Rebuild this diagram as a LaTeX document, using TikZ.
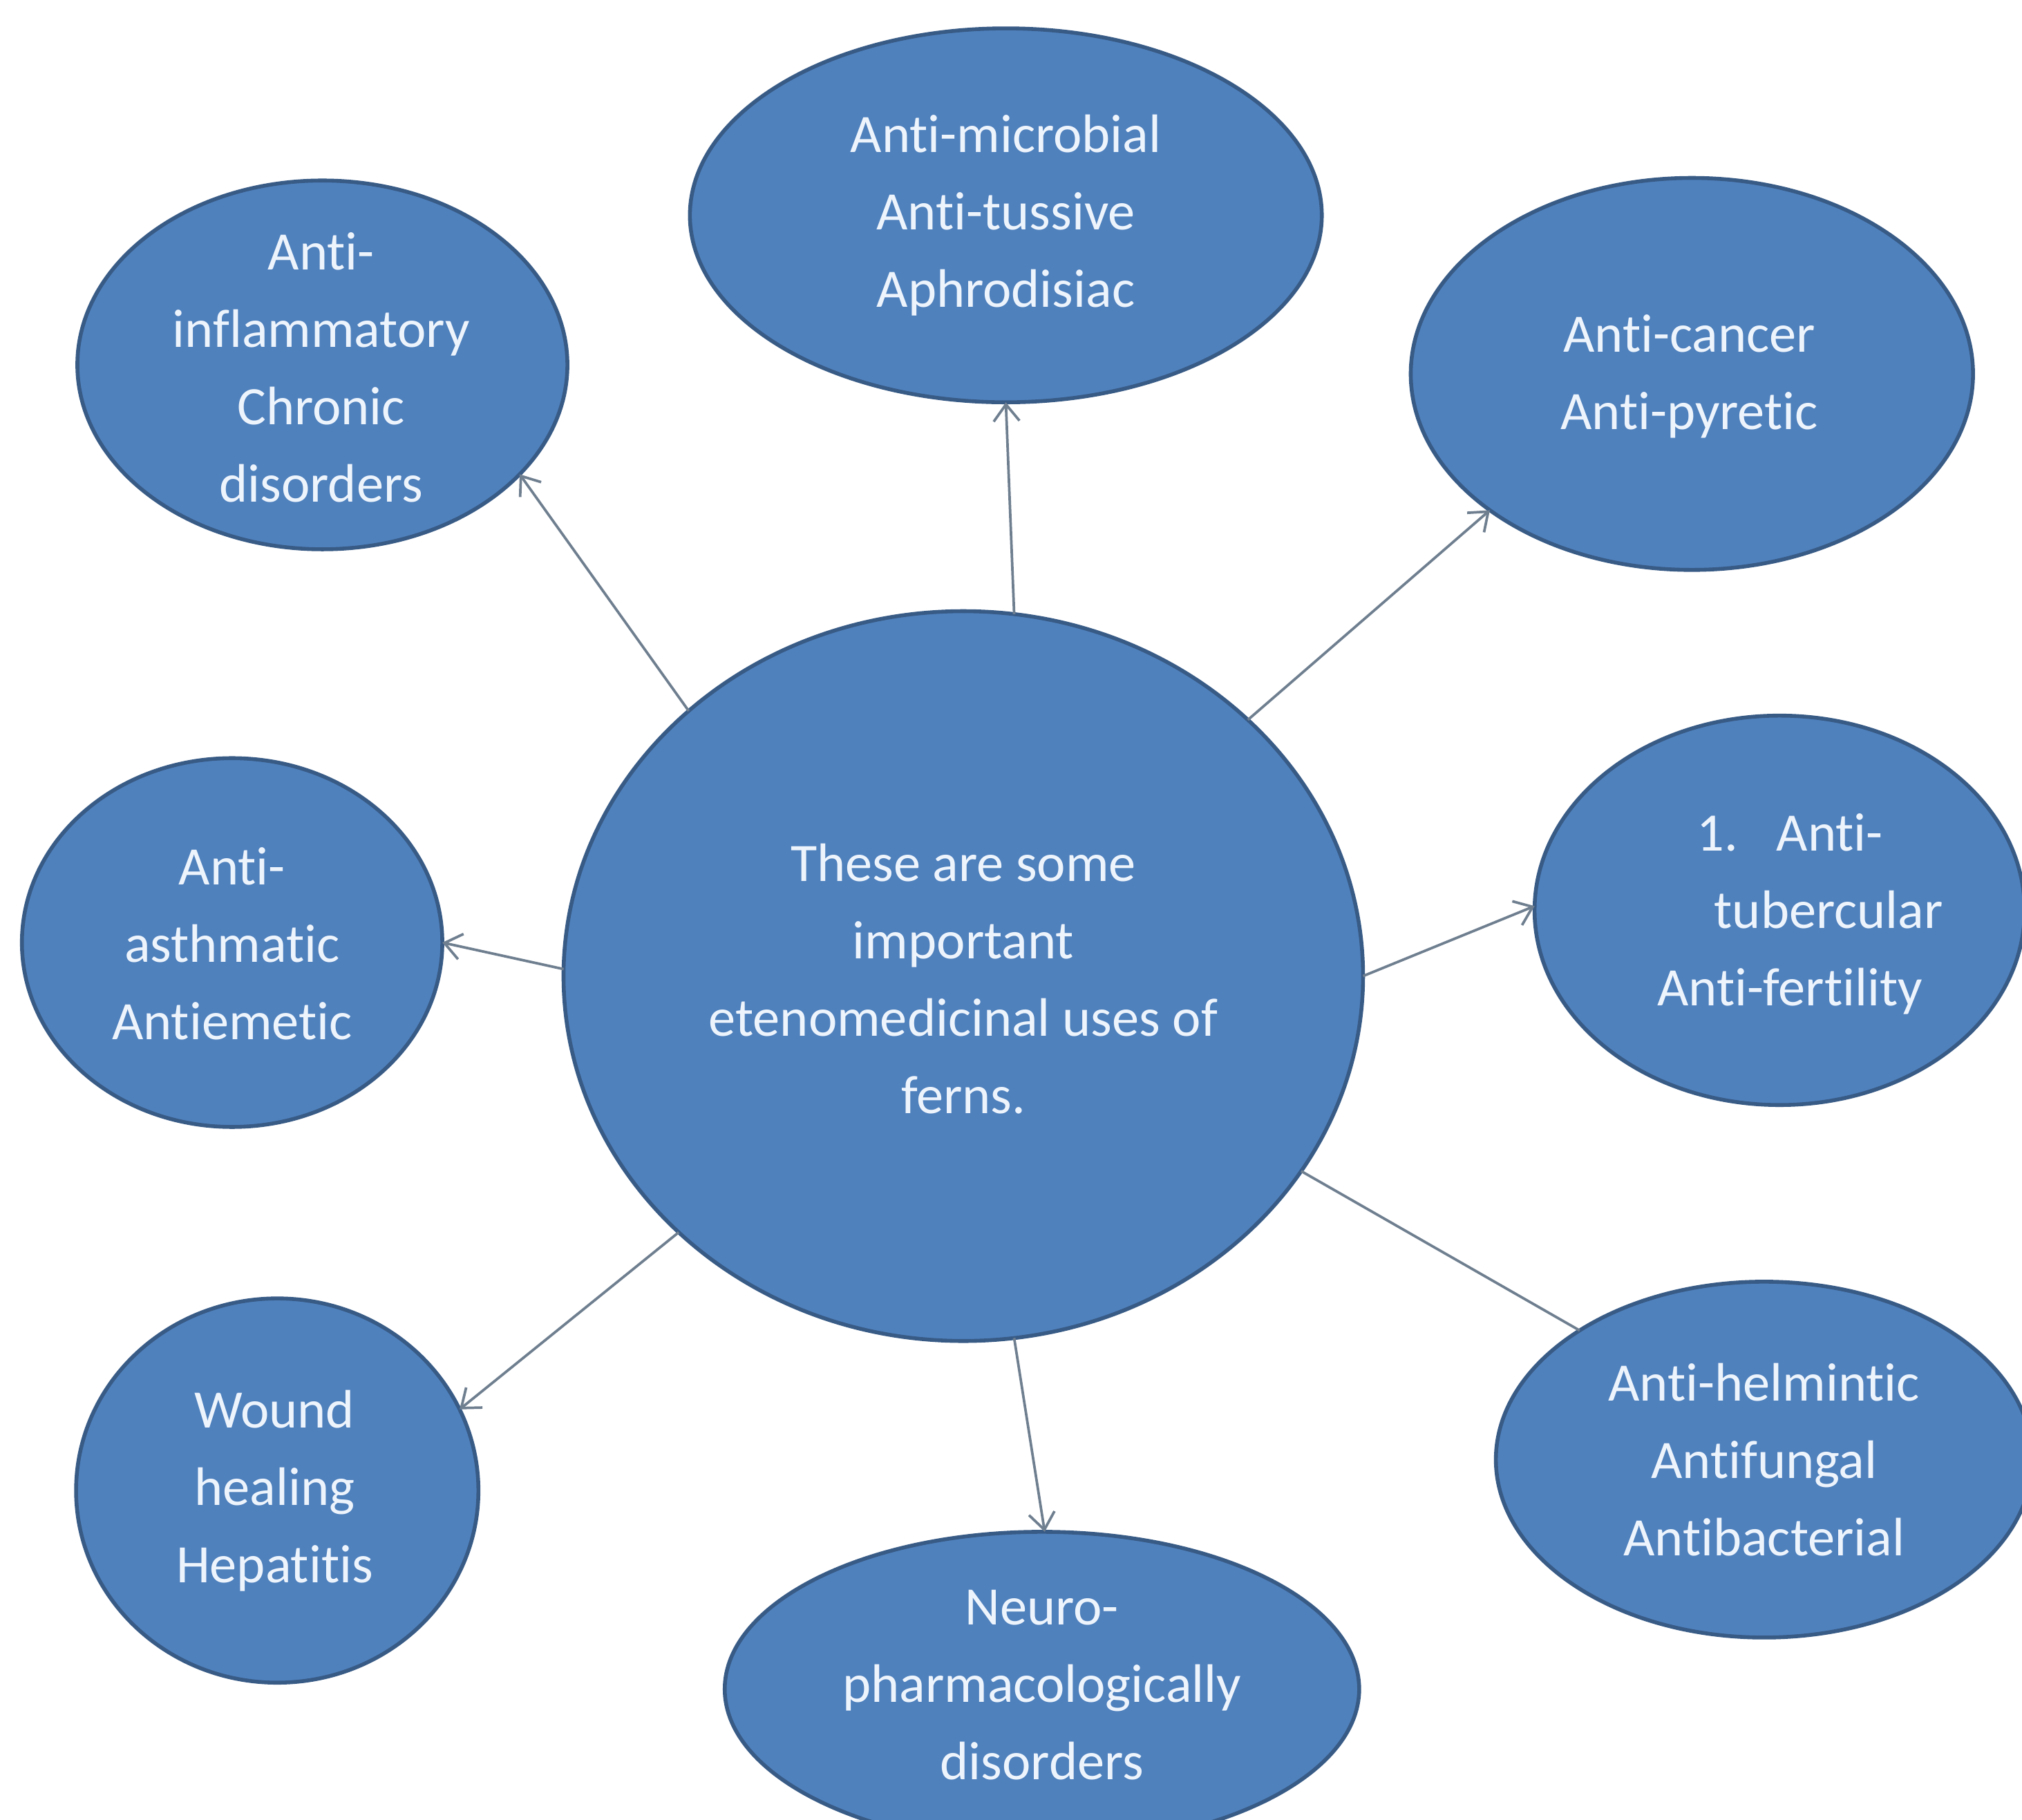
\documentclass[tikz,border=0pt]{standalone}
\usepackage{fontspec}
\setmainfont{Carlito}[Ligatures=NoCommon]
\usetikzlibrary{shapes.geometric,arrows.meta}
\definecolor{bfill}{HTML}{4F81BD}
\definecolor{bdraw}{HTML}{385B86}
\definecolor{btext}{HTML}{EEF4FC}
\definecolor{connc}{HTML}{6F7F90}
\begin{document}
\begin{tikzpicture}[x=1pt,y=-1pt,
  bubble/.style={ellipse, fill=bfill, draw=bdraw, line width=3pt, inner sep=0pt, outer sep=0pt},
  txt/.style={inner sep=0pt, text=btext, align=center, font=\fontsize{42}{60}\selectfont},
  link/.style={draw=connc, line width=2pt},
  arr/.style={link, -{Straight Barb[length=13pt,width=20pt,line width=2pt]}}]
\fill[white] (0,0) rectangle (1568,1411);
\useasboundingbox (0,0) rectangle (1568,1411);

% central ellipse
\node[bubble, minimum width=620pt, minimum height=566pt] (c) at (747,757) {};
\node[txt] (ct) at (747,759) {These are some\\important\\etenomedicinal uses of\\ferns.};

% outer ellipses
\node[bubble, minimum width=380pt, minimum height=286pt] (tl) at (250,283) {};
\node[txt] (tlt) at (249,285) {Anti-\\inflammatory\\Chronic\\disorders};

\node[bubble, minimum width=490pt, minimum height=290pt] (tp) at (780,167) {};
\node[txt] (tpt) at (780,167) {Anti-microbial\\Anti-tussive\\Aphrodisiac};

\node[bubble, minimum width=436pt, minimum height=304pt] (tr) at (1312,290) {};
\node[txt] (trt) at (1310,292) {Anti-cancer\\Anti-pyretic};

\node[bubble, minimum width=326pt, minimum height=286pt] (lm) at (180,731) {};
\node[txt] (lmt) at (180,732) {Anti-\\asthmatic\\Antiemetic};

\node[bubble, minimum width=380pt, minimum height=302pt] (rm) at (1380,706) {};
\node[txt] (rmt) at (1388,709) {1.\hspace{30pt}Anti-\\\hspace*{60pt}tubercular\\Anti-fertility};

\node[bubble, minimum width=312pt, minimum height=298pt] (bl) at (215,1156) {};
\node[txt] (blt) at (213,1156) {Wound\\healing\\Hepatitis};

\node[bubble, minimum width=492pt, minimum height=244pt] (bt) at (808,1310) {};
\node[txt] (btt) at (808,1307) {Neuro-\\pharmacologically\\disorders};

\node[bubble, minimum width=416pt, minimum height=276pt] (br) at (1368,1132) {};
\node[txt] (brt) at (1368,1132) {Anti-helmintic\\Antifungal\\Antibacterial};

% connectors
\draw[arr] (c.136.9) -- (tl.331);
\draw[arr] (c.82) -- (tp.270.8);
\draw[arr] (c.42.6) -- (tr.214.6);
\draw[arr] (c.179.1) -- (lm.0.4);
\draw[arr] (c.-0.6) -- (rm.179.7);
\draw[arr] (c.222.7) -- (bl.24.8);
\draw[arr] (c.278.6) -- (bt.89);
\draw[link] (c.330.3) -- (br.145);
\end{tikzpicture}
\end{document}
